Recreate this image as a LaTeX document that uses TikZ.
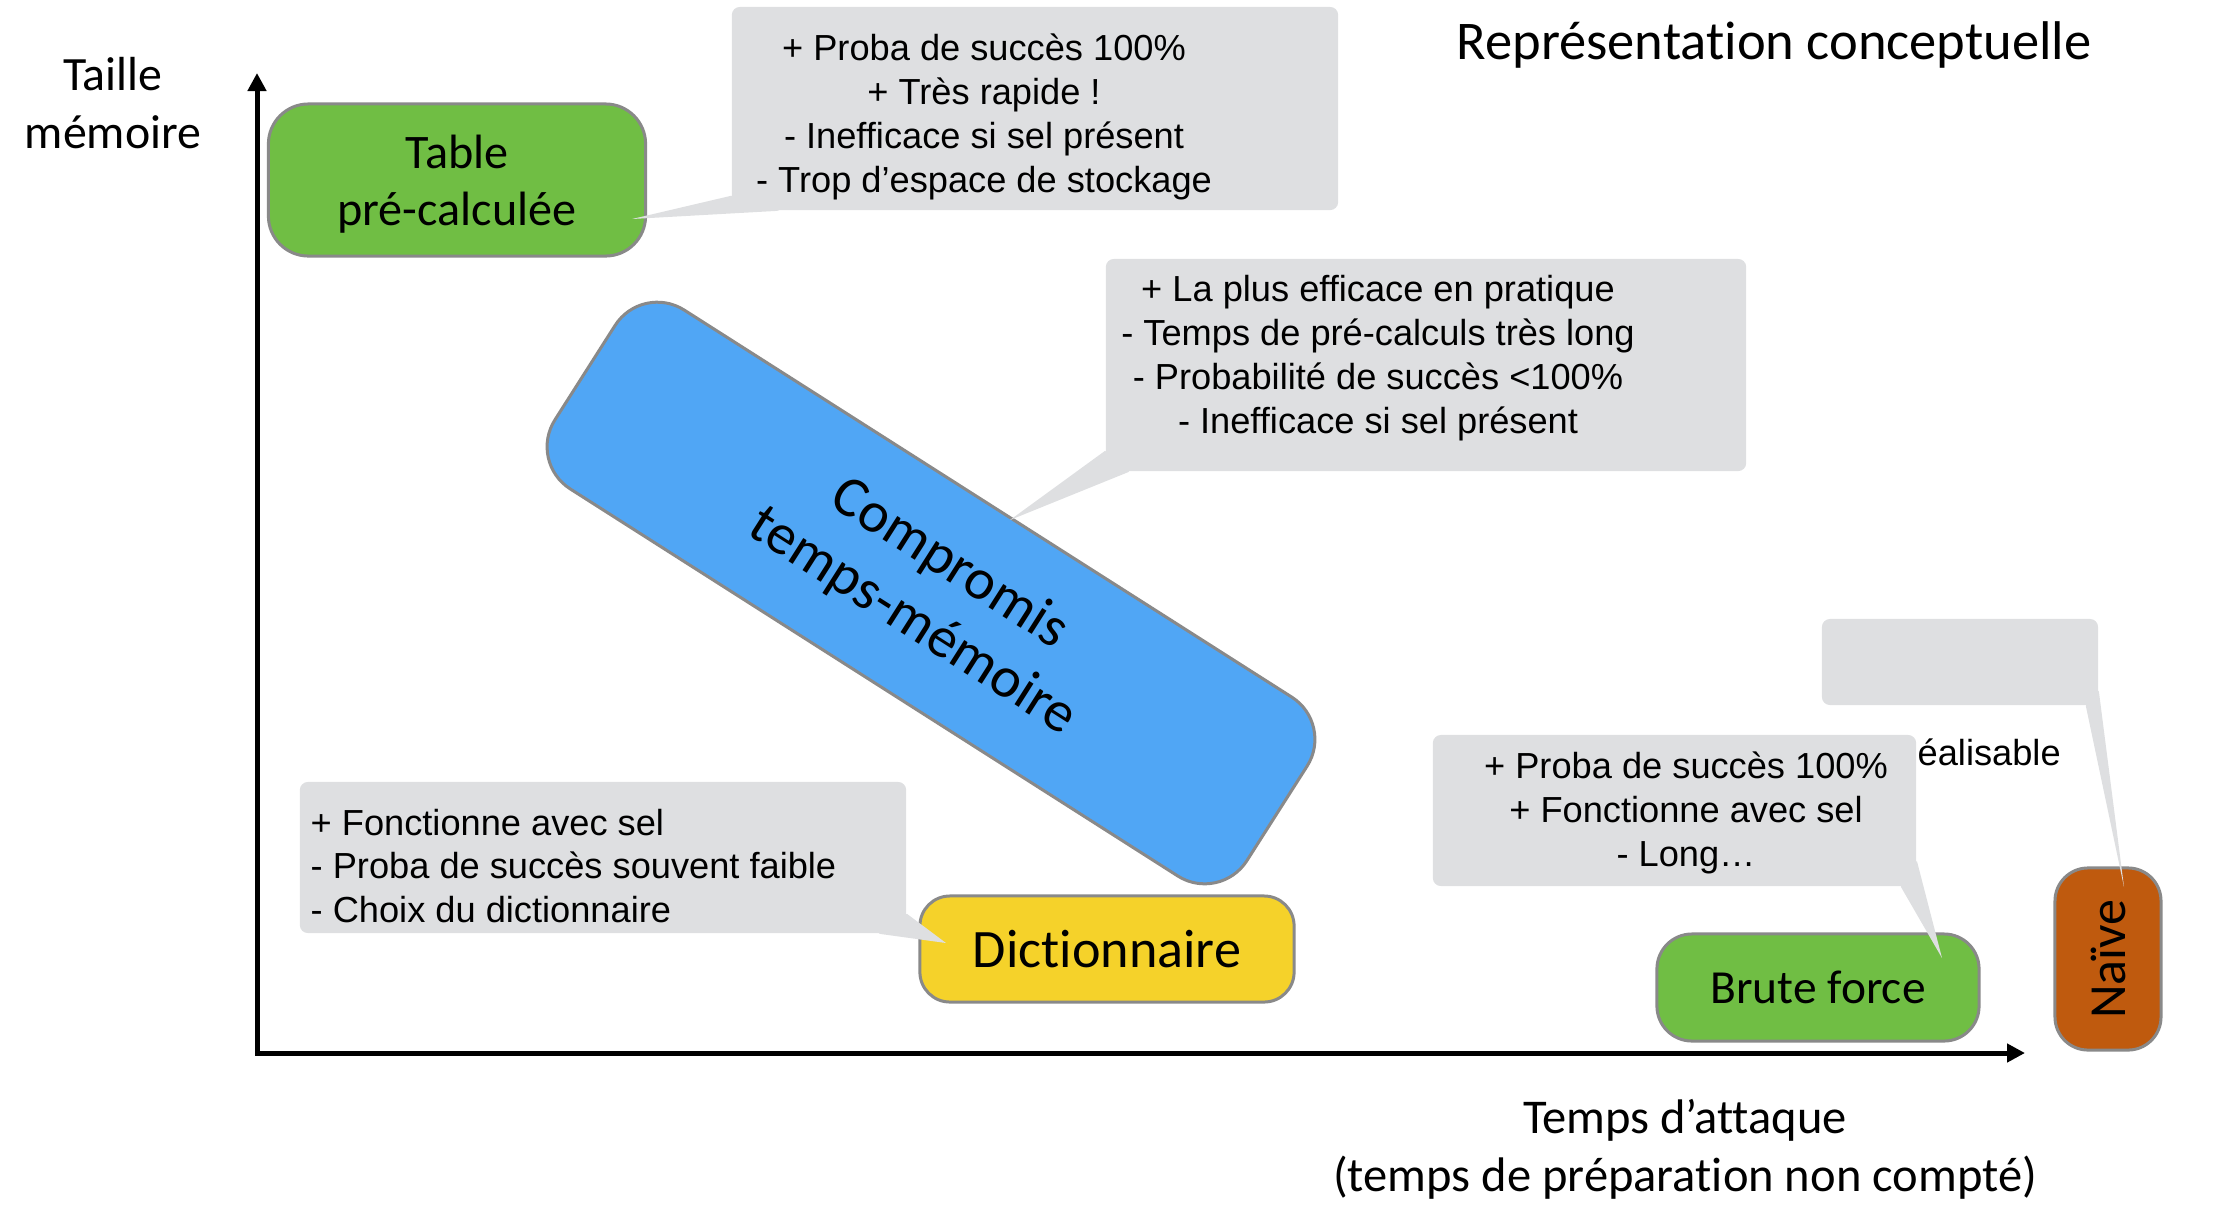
\documentclass[tikz,border=0pt]{standalone}
\usepackage{fontspec}
\setmainfont{Carlito}[Ligatures={TeX,NoCommon}]
\newfontfamily\arialf{Liberation Sans}
\usetikzlibrary{arrows.meta,calc}

\definecolor{gris}{RGB}{222,223,225}
\definecolor{bord}{RGB}{137,137,137}
\definecolor{vert}{RGB}{112,190,68}
\definecolor{bleu}{RGB}{80,166,245}
\definecolor{jaune}{RGB}{245,210,42}
\definecolor{rouille}{RGB}{191,90,14}

\begin{document}
\begin{tikzpicture}[x=0.01cm, y=-0.01cm,
    boite/.style={draw=bord, line width=0.03cm, align=center, inner sep=0pt},
    bulle/.style={fill=gris, rounded corners=0.08cm, inner sep=0pt},
    queue/.style={fill=gris},
    txtbulle/.style={font=\arialf\fontsize{10.3}{12.5}\selectfont, align=center, inner sep=0pt}]

    \useasboundingbox (0,0) rectangle (2220,1214);

    % --- Axes ---
    \coordinate (O) at (257,1053);
    \coordinate (ymax) at (257,73);
    \coordinate (xmax) at (2025,1053);
    \draw[arrows={Triangle[length=0.18cm,width=0.18cm]-Triangle[length=0.18cm,width=0.18cm]}, line width=0.05cm] (ymax) -- (O) -- (xmax);

    \node[font=\fontsize{13.6}{16.6}\selectfont, align=center] (ylab) at (113,103) {Taille\\mémoire};
    \node[font=\fontsize{13.8}{16.5}\selectfont, align=center] (xlab) at (1685,1149) {Temps d’attaque\\(temps de préparation non compté)};
    \node[font=\fontsize{15.5}{18}\selectfont] (titre) at (1774,45) {Représentation conceptuelle};

    % --- Les methodes ---
    \node[boite, fill=vert, minimum width=3.77cm, minimum height=1.52cm, rounded corners=0.4cm,
          font=\fontsize{13.7}{16.2}\selectfont] (table) at (457,180) {};
    \node[font=\fontsize{13.7}{16.2}\selectfont, align=center, inner sep=0pt] (tTable0) at (457,184) {Table\\pré-calculée};
    \node[boite, fill=bleu, rotate=-32.5, minimum width=8.2cm, minimum height=2.12cm, rounded corners=0.5cm,
          font=\fontsize{16.4}{19.5}\selectfont] (compromis) at (931,593) {Compromis\\temps-mémoire};
    \node[boite, fill=jaune, minimum width=3.74cm, minimum height=1.06cm, rounded corners=0.3cm,
          font=\fontsize{15.4}{18}\selectfont] (dico) at (1107,949) {Dictionnaire};
    \node[boite, fill=vert, minimum width=3.22cm, minimum height=1.07cm, rounded corners=0.35cm,
          font=\fontsize{13.5}{16}\selectfont] (brute) at (1818,987.5) {Brute force};
    \node[boite, fill=rouille, rotate=90, minimum width=1.82cm, minimum height=1.06cm, rounded corners=0.33cm,
          font=\fontsize{14.8}{17}\selectfont] (naive) at (2108,959) {Naïve};

    \node[txtbulle, anchor=base west] (irr) at (1917,765) {éalisable};

    % --- Bulles ---
    \node[bulle, minimum width=6.06cm, minimum height=2.03cm] (bTable) at (1035,108.5) {};
    \fill[queue] ($(bTable.south west)+(0,-15)$) -- (632,219) -- ($(bTable.south west)+(48,0)$) -- cycle;
    \node[txtbulle] (tTable) at (984,117) {+ Proba de succès 100\%\\+ Très rapide !\\- Inefficace si sel présent\\- Trop d’espace de stockage};

    \node[bulle, minimum width=6.40cm, minimum height=2.12cm] (bComp) at (1426,365) {};
    \fill[queue] ($(bComp.south west)+(0,-21)$) -- (1010,520) -- ($(bComp.south west)+(24,0)$) -- cycle;
    \node[txtbulle] (tComp) at (1378,358.5) {+ La plus efficace en pratique\\- Temps de pré-calculs très long\\- Probabilité de succès <100\%\\- Inefficace si sel présent};

    \node[bulle, minimum width=6.06cm, minimum height=1.51cm] (bDico) at (603,857.5) {};
    \fill[queue] ($(bDico.south east)+(0,-20)$) -- (946,943) -- ($(bDico.south east)+(-28,0)$) -- cycle;
    \node[txtbulle, align=left, anchor=west] (tDico) at (310,866) {+ Fonctionne avec sel\\- Proba de succès souvent faible\\- Choix du dictionnaire};

    \node[bulle, minimum width=4.83cm, minimum height=1.51cm] (bBrute) at (1674.5,810.5) {};
    \fill[queue] ($(bBrute.south east)+(0,-26)$) -- (1942,958) -- ($(bBrute.south east)+(-16,0)$) -- cycle;
    \node[txtbulle] (tBrute) at (1686,813) {+ Proba de succès 100\%\\+ Fonctionne avec sel\\- Long…};

    \node[bulle, minimum width=2.76cm, minimum height=0.86cm] (bNaive) at (1960,662) {};
    \fill[queue] ($(bNaive.south east)+(0,-15)$) -- (2124,887) -- ($(bNaive.south east)+(-13,0)$) -- cycle;

\end{tikzpicture}
\end{document}
